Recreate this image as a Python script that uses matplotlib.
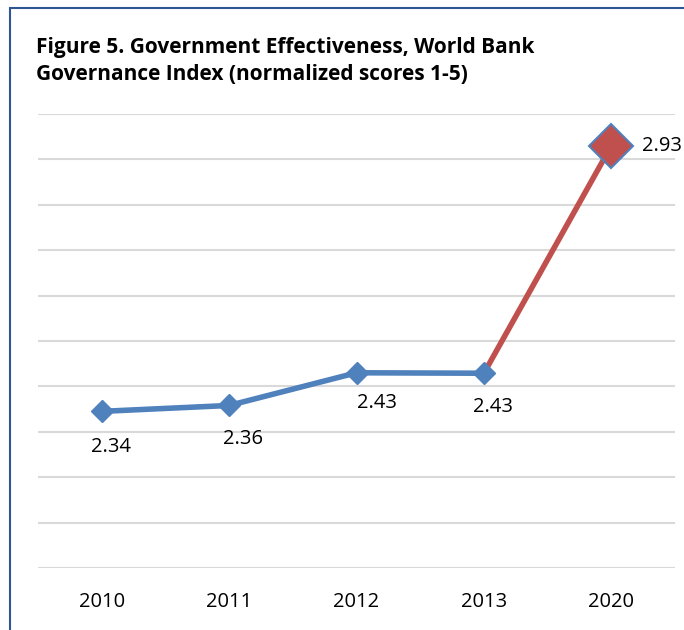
import matplotlib.pyplot as plt
from matplotlib.patches import Rectangle

# Data
years = ['2010', '2011', '2012', '2013', '2020']
scores = [2.345, 2.358, 2.43, 2.429, 2.93]
labels = ['2.34', '2.36', '2.43', '2.43', '2.93']
# label offsets in points (dx, dy)
label_offsets = [(7, -26), (10, -24.5), (15, -21.5), (6.5, -24.5), (22, 0)]

plt.rcParams['font.family'] = ['Open Sans', 'DejaVu Sans']

fig = plt.figure(figsize=(6.84, 6.3), dpi=100)
ax = fig.add_axes([38 / 684, 62 / 630, 637 / 684, 454 / 630])

x = list(range(len(years)))

# Blue series 2010-2013
ax.plot(x[:4], scores[:4], color='#4F81BD', linewidth=4, marker='D',
        markersize=11, markerfacecolor='#4F81BD', markeredgecolor='#4F81BD',
        zorder=3)
# Red segment to 2020
ax.plot(x[3:], scores[3:], color='#C0504D', linewidth=4, zorder=2)
ax.plot(x[4], scores[4], marker='D', markersize=22, markerfacecolor='#C0504D',
        markeredgecolor='#4F81BD', markeredgewidth=1.5, linestyle='none',
        zorder=4)

for i, (xi, yi, lab, off) in enumerate(zip(x, scores, labels, label_offsets)):
    ax.annotate(lab, (xi, yi), xytext=off, textcoords='offset points',
                ha='left' if i == 4 else 'center', va='center',
                fontsize=14.5, annotation_clip=False)

ax.set_xlim(-0.5, 4.5)
ax.set_ylim(2.0, 3.0)
ax.set_yticks([2.0 + 0.1 * i for i in range(11)])
ax.set_yticklabels([])
ax.set_xticks(x)
ax.set_xticklabels(years, fontsize=14.5)
ax.tick_params(axis='both', length=0)
ax.tick_params(axis='x', pad=17)
ax.grid(axis='y', color='#D9D9D9', linewidth=1.5)
ax.set_axisbelow(True)
for s in ax.spines.values():
    s.set_visible(False)

fig.text(36 / 684, 1 - 47 / 630, 'Figure 5. Government Effectiveness, World Bank',
         fontsize=15, fontweight='bold', va='center', ha='left')
fig.text(36 / 684, 1 - 75 / 630, 'Governance Index (normalized scores 1-5)',
         fontsize=15, fontweight='bold', va='center', ha='left')

# outer frame
fig.patches.append(Rectangle((10 / 684, -0.1), 1.2, 1 - 8 / 630 + 0.1,
                             transform=fig.transFigure, fill=False,
                             edgecolor='#2F5597', linewidth=1.5))

fig.savefig('out.png', dpi=100)
